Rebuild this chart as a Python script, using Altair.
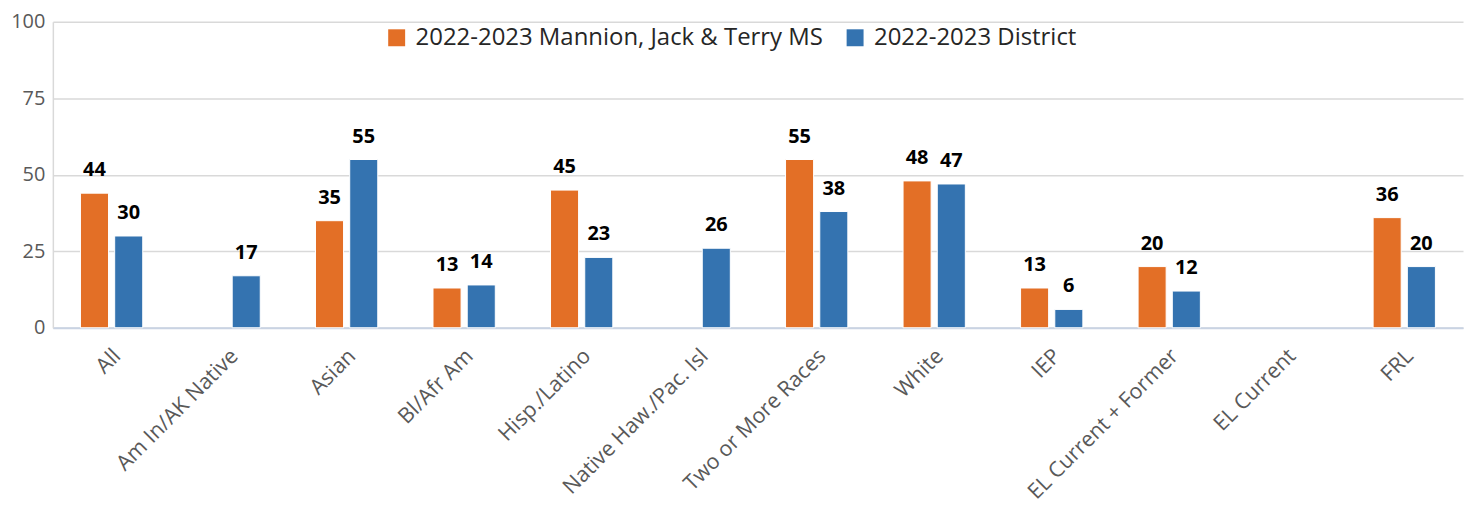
import altair as alt
import pandas as pd

categories = ["All", "Am In/AK Native", "Asian", "Bl/Afr Am", "Hisp./Latino",
              "Native Haw./Pac. Isl", "Two or More Races", "White", "IEP",
              "EL Current + Former", "EL Current", "FRL"]
school_vals = [44, None, 35, 13, 45, None, 55, 48, 13, 20, None, 36]
district_vals = [30, 17, 55, 14, 23, 26, 38, 47, 6, 12, None, 20]
series = ["2022-2023 Mannion, Jack & Terry MS", "2022-2023 District"]
colors = ["#E36F26", "#3473B0"]

rows = []
for c, s, d in zip(categories, school_vals, district_vals):
    if s is not None:
        rows.append({"cat": c, "series": series[0], "value": s})
    if d is not None:
        rows.append({"cat": c, "series": series[1], "value": d})
df = pd.DataFrame(rows)

FONT = "Open Sans"

x = alt.X("cat:N", sort=categories, title=None,
          scale=alt.Scale(domain=categories, paddingInner=0.47, paddingOuter=0.235),
          axis=alt.Axis(labelAngle=-45, labelFontSize=21.5, labelColor="#595959",
                        labelFont=FONT, ticks=False, domainColor="#C9D3E3",
                        domainWidth=2, labelPadding=25, labelOffset=6,
                        labelAlign="right", labelBaseline="middle", labelLimit=400))
xo = alt.XOffset("series:N", sort=series,
                 scale=alt.Scale(domain=series, paddingInner=0.18, paddingOuter=0))
y = alt.Y("value:Q", title=None,
          scale=alt.Scale(domain=[0, 100]),
          axis=alt.Axis(values=[0, 25, 50, 75, 100], labelFontSize=20,
                        labelColor="#595959", labelFont=FONT, ticks=False,
                        gridColor="#D9D9D9", gridWidth=1.5, domainColor="#D9D9D9",
                        domainWidth=1.5, labelPadding=8))

bars = alt.Chart(df).mark_bar(stroke="white", strokeWidth=1).encode(
    x=x, xOffset=xo, y=y,
    color=alt.Color("series:N", sort=series,
                    scale=alt.Scale(domain=series, range=colors),
                    legend=alt.Legend(title=None, orient="none", direction="horizontal",
                                      legendX=333, legendY=4, symbolType="square",
                                      symbolSize=289, labelFontSize=24,
                                      labelFont=FONT, labelColor="#262626",
                                      columnPadding=20, labelOffset=7,
                                      symbolStrokeWidth=0, labelLimit=600,
                                      padding=0))
)

labels = alt.Chart(df).mark_text(dy=-23, fontSize=20, fontWeight="bold",
                                 font=FONT, color="black").encode(
    x=alt.X("cat:N", sort=categories), xOffset=alt.XOffset("series:N", sort=series),
    y="value:Q", text=alt.Text("value:Q", format=".0f")
)

chart = (bars + labels).properties(
    width=1415, height=307,
    autosize=alt.AutoSizeParams(type="none"),
    padding={"left": 45, "top": 13, "right": 4, "bottom": 190},
).configure_view(stroke=None)

chart.save("out.html", embed_options={"renderer": "svg", "actions": False})
